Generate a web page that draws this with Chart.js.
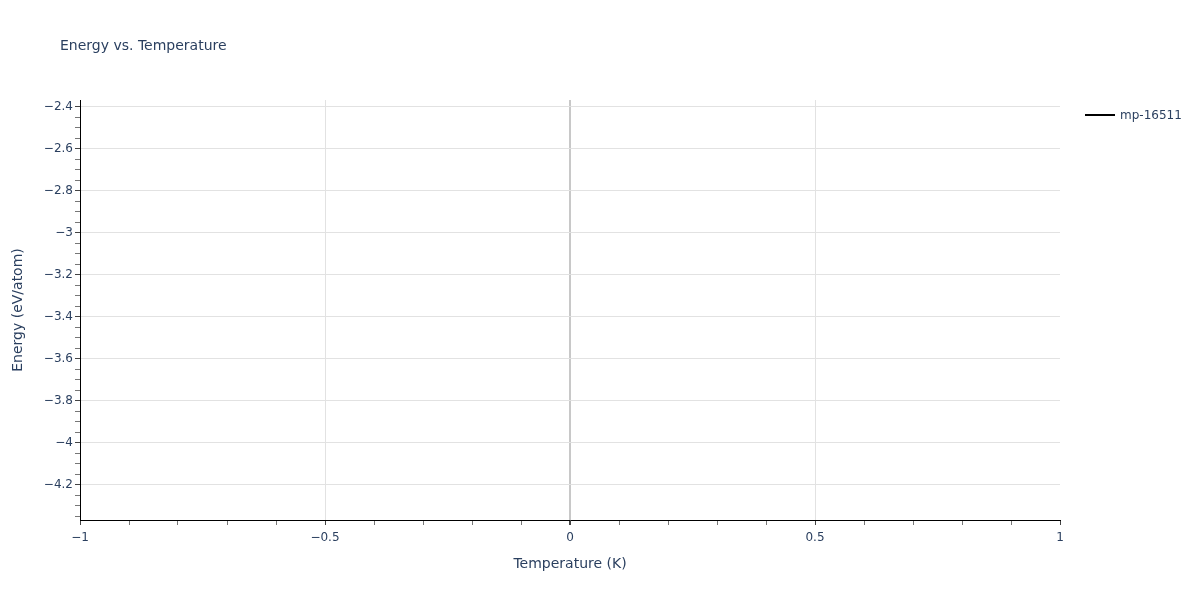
<!DOCTYPE html>
<html>
<head>
<meta charset="utf-8">
<script src="https://cdn.jsdelivr.net/npm/chart.js@4/dist/chart.umd.min.js"></script>
<style>
  body { margin: 0; background: #fff; }
  #wrap { position: relative; width: 1200px; height: 600px; font-family: "DejaVu Sans", Verdana, sans-serif; color: #2a3f5f; }
  #title { position: absolute; left: 60px; top: 37px; font-size: 14px; }
  #legend { position: absolute; left: 1085px; top: 108px; font-size: 12px; display: flex; align-items: center; }
  #legend .swatch { width: 30px; height: 0; border-top: 2px solid #000; margin-right: 5px; }
</style>
</head>
<body>
<div id="wrap">
  <canvas id="chart" width="1200" height="600"></canvas>
  <div id="title">Energy vs. Temperature</div>
  <div id="legend"><span class="swatch"></span><span>mp-16511</span></div>
</div>
<script>
// the figure has one named trace but no plotted points
const seriesName = 'mp-16511';
const temperature = [];
const energy = [];

const xRange = [-1, 1];
const yRange = [-4.3667, -2.3667];
const xMajor = [-1, -0.5, 0, 0.5, 1];
const yMajor = [-4.2, -4, -3.8, -3.6, -3.4, -3.2, -3, -2.8, -2.6, -2.4];

const fontFamily = '"DejaVu Sans", Verdana, sans-serif';
const textColor = '#2a3f5f';

function isMajor(v, list) {
    return list.some(m => Math.abs(m - v) < 1e-6);
}
function fmt(v) {
    let s = String(+v.toFixed(2));
    return s.replace('-', '\u2212');
}

new Chart(document.getElementById('chart'), {
    type: 'line',
    data: {
        datasets: [{
            label: seriesName,
            data: temperature.map((t, i) => ({ x: t, y: energy[i] })),
            borderColor: '#000',
            borderWidth: 2,
            pointRadius: 0
        }]
    },
    options: {
        responsive: false,
        animation: false,
        layout: { padding: { top: 100, right: 140, left: 0, bottom: 0 } },
        plugins: { legend: { display: false }, tooltip: { enabled: false } },
        scales: {
            x: {
                type: 'linear',
                min: xRange[0],
                max: xRange[1],
                afterFit: s => { s.height = 80; },
                afterBuildTicks: s => {
                    s.ticks = [];
                    for (let i = 0; i <= 20; i++) s.ticks.push({ value: +(xRange[0] + i * 0.1).toFixed(2) });
                },
                border: { display: true, color: '#000', width: 1 },
                grid: {
                    drawTicks: true,
                    tickLength: 5,
                    tickColor: c => isMajor(c.tick.value, xMajor) ? '#444' : '#777',
                    color: c => {
                        if (!c.tick || !isMajor(c.tick.value, xMajor) || Math.abs(c.tick.value) === 1) return 'rgba(0,0,0,0)';
                        return c.tick.value === 0 ? '#c8c8c8' : '#e2e2e2';
                    },
                    lineWidth: c => (c.tick && c.tick.value === 0) ? 2 : 1
                },
                ticks: {
                    autoSkip: false,
                    maxRotation: 0,
                    padding: 6,
                    color: textColor,
                    font: { family: fontFamily, size: 12 },
                    callback: v => isMajor(v, xMajor) ? fmt(v) : ''
                },
                title: {
                    display: true,
                    text: 'Temperature (K)',
                    color: textColor,
                    font: { family: fontFamily, size: 14 },
                    padding: { top: 0, bottom: 27 }
                }
            },
            y: {
                type: 'linear',
                min: yRange[0],
                max: yRange[1],
                afterFit: s => { s.width = 80; },
                afterBuildTicks: s => {
                    s.ticks = [];
                    for (let i = 0; i <= 40; i++) {
                        const v = +(-4.35 + i * 0.05).toFixed(2);
                        if (v >= yRange[0] && v <= yRange[1]) s.ticks.push({ value: v });
                    }
                },
                border: { display: true, color: '#000', width: 1 },
                grid: {
                    drawTicks: true,
                    tickLength: 5,
                    tickColor: c => isMajor(c.tick.value, yMajor) ? '#444' : '#777',
                    color: c => (c.tick && isMajor(c.tick.value, yMajor)) ? '#e2e2e2' : 'rgba(0,0,0,0)'
                },
                ticks: {
                    autoSkip: false,
                    padding: 2,
                    color: textColor,
                    font: { family: fontFamily, size: 12 },
                    callback: v => isMajor(v, yMajor) ? fmt(v) : ''
                },
                title: {
                    display: true,
                    text: 'Energy (eV/atom)',
                    color: textColor,
                    font: { family: fontFamily, size: 14 },
                    padding: { top: 10, bottom: 0 }
                }
            }
        }
    }
});
</script>
</body>
</html>
